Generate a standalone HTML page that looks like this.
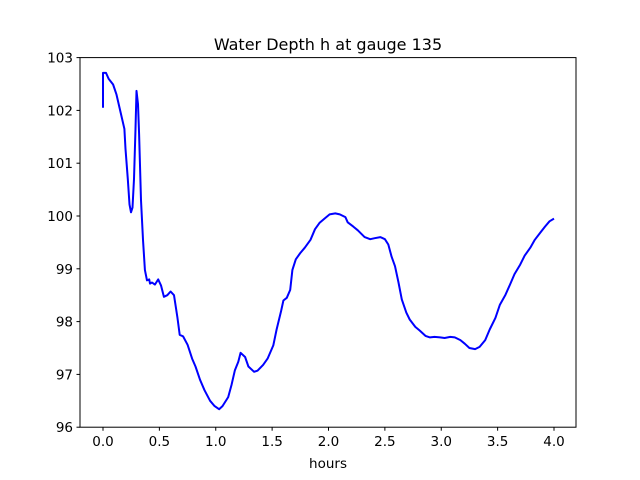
<!DOCTYPE html>
<html><head><meta charset="utf-8"><style>
body{margin:0;background:#fff}
svg{display:block;font-family:"DejaVu Sans","Liberation Sans",sans-serif}
</style></head><body>
<svg id="chart" width="640" height="480">
<rect width="640" height="480" fill="#fff"/>
<text x="328" y="50" text-anchor="middle" font-size="16">Water Depth h at gauge 135</text>
<text x="328" y="468" text-anchor="middle" font-size="13.5">hours</text>
<g id="ticks"></g>
<path id="line" fill="none" stroke="#0000ff" stroke-width="2" stroke-linejoin="round"/>
<rect x="80" y="57.6" width="496" height="369.6" fill="none" stroke="#000" stroke-width="1"/>
</svg>
<script>
const hours=[0,0,0.027,0.05,0.09,0.12,0.16,0.19,0.20,0.22,0.235,0.248,0.262,0.275,0.288,0.297,0.31,0.32,0.337,0.355,0.372,0.39,0.41,0.417,0.435,0.46,0.49,0.515,0.54,0.57,0.60,0.63,0.66,0.68,0.71,0.75,0.79,0.82,0.86,0.9,0.95,0.99,1.03,1.06,1.11,1.14,1.17,1.2,1.22,1.26,1.29,1.34,1.37,1.42,1.46,1.51,1.54,1.58,1.6,1.63,1.66,1.68,1.71,1.75,1.79,1.84,1.88,1.92,1.97,2.01,2.06,2.1,2.15,2.17,2.22,2.26,2.32,2.37,2.41,2.46,2.5,2.53,2.56,2.59,2.62,2.65,2.69,2.72,2.77,2.81,2.86,2.9,2.94,2.99,3.03,3.08,3.12,3.17,3.21,3.25,3.3,3.34,3.39,3.43,3.48,3.52,3.57,3.61,3.65,3.7,3.74,3.79,3.83,3.88,3.92,3.96,4.0];
const depth=[102.05,102.71,102.71,102.6,102.49,102.3,101.93,101.65,101.27,100.7,100.22,100.07,100.16,100.7,101.65,102.37,102.12,101.55,100.3,99.55,98.98,98.78,98.8,98.72,98.74,98.7,98.8,98.68,98.47,98.5,98.57,98.5,98.08,97.75,97.72,97.56,97.3,97.15,96.9,96.7,96.5,96.4,96.34,96.4,96.57,96.8,97.08,97.24,97.41,97.33,97.15,97.05,97.07,97.18,97.3,97.55,97.85,98.2,98.4,98.45,98.6,98.98,99.18,99.3,99.4,99.55,99.75,99.87,99.96,100.03,100.05,100.03,99.98,99.88,99.8,99.73,99.6,99.56,99.58,99.6,99.56,99.46,99.23,99.05,98.75,98.42,98.17,98.04,97.9,97.83,97.73,97.7,97.71,97.7,97.69,97.71,97.7,97.65,97.58,97.5,97.48,97.52,97.65,97.85,98.07,98.32,98.51,98.7,98.9,99.08,99.25,99.4,99.55,99.69,99.8,99.9,99.95];
const xTicks=[0,0.5,1,1.5,2,2.5,3,3.5,4];
const xTickLabels=["0.0","0.5","1.0","1.5","2.0","2.5","3.0","3.5","4.0"];
const yTicks=[96,97,98,99,100,101,102,103];
const yTickLabels=["96","97","98","99","100","101","102","103"];
const X=v=>103+v*112.75;
const Y=v=>427.2-(v-96)*52.8;
const NS="http://www.w3.org/2000/svg";
const g=document.getElementById('ticks');
function mk(t,a){const e=document.createElementNS(NS,t);for(const k in a)e.setAttribute(k,a[k]);g.appendChild(e);return e;}
xTicks.forEach((v,i)=>{
 const l=mk('line',{x1:X(v),x2:X(v),y1:427.2,y2:430.7,stroke:'#000'});
 
 
 const t=mk('text',{x:X(v),y:446,'text-anchor':'middle','font-size':'13.5'});
 t.textContent=xTickLabels[i];
 
 
});
yTicks.forEach((v,i)=>{
 const l=mk('line',{x1:76.5,x2:80,y1:Y(v),y2:Y(v),stroke:'#000'});
 
 
 const t=mk('text',{x:73,y:Y(v)+5,'text-anchor':'end','font-size':'13.5'});
 t.textContent=yTickLabels[i];
 
 
});
document.getElementById('line').setAttribute('d',hours.map((h,i)=>(i?'L':'M')+X(h).toFixed(1)+' '+Y(depth[i]).toFixed(1)).join(' '));
</script>
</body></html>
